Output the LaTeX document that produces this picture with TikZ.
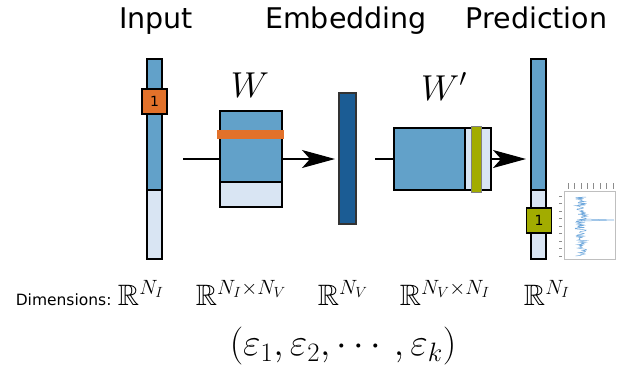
\documentclass[tikz,border=0pt]{standalone}
\usepackage{fix-cm}
\usepackage{amsmath,amssymb}
\usepackage{fontspec}
\setsansfont{DejaVu Sans}
\usetikzlibrary{arrows.meta,backgrounds}
\definecolor{midblue}{HTML}{62A1C9}
\definecolor{paleblue}{HTML}{D9E5F3}
\definecolor{embblue}{HTML}{1B5C94}
\definecolor{hotorange}{HTML}{E2712A}
\definecolor{hotolive}{HTML}{A2AC00}
\definecolor{noiseblue}{HTML}{6FA8DC}
\begin{document}
\begin{tikzpicture}[x=1pt,y=-1pt,
  box/.style={draw=black,line width=1.2pt,inner sep=0pt,outer sep=0pt},
  onehot/.style={box,minimum size=25pt,font=\sffamily\fontsize{14}{14}\selectfont},
  title/.style={font=\sffamily\fontsize{28.5}{30}\selectfont,anchor=base},
  dim/.style={font=\fontsize{29.5}{32}\selectfont,anchor=base},
  conn/.style={line width=1.2pt,-{Stealth[length=33pt,width=18pt,inset=8pt]}},
]
\useasboundingbox (0,0) rectangle (621,368);
% titles
\node[title] (tin) at (156,28) {Input};
\node[title] (temb) at (346,28) {Embedding};
\node[title] (tpred) at (536.5,28) {Prediction};
% input vector
\node[box,fill=midblue,minimum width=15pt,minimum height=131pt] (intop) at (154.5,124.5) {};
\node[box,fill=paleblue,minimum width=15pt,minimum height=69pt] (inbot) at (154.5,224.5) {};
\node[onehot,fill=hotorange] (inone) at (154.5,101.5) {1};
% W
\node[box,fill=midblue,minimum width=62pt,minimum height=71pt] (wtop) at (251,146.5) {};
\node[box,fill=paleblue,minimum width=62pt,minimum height=25pt] (wbot) at (251,194.5) {};
\node[fill=hotorange,inner sep=0pt,minimum width=67pt,minimum height=9pt] (wrow) at (250.5,134.5) {};
\node[font=\fontsize{36}{40}\selectfont,anchor=base] (wlab) at (250,97) {$W$};
% embedding
\node[box,draw=black!80,fill=embblue,minimum width=17pt,minimum height=131pt] (emb) at (347.5,158.5) {};
% W'
\node[box,fill=midblue,minimum width=71pt,minimum height=62pt] (wpl) at (429.5,159) {};
\node[box,fill=paleblue,minimum width=26pt,minimum height=62pt] (wpr) at (478,159) {};
\node[box,draw=black!50,line width=0.6pt,fill=hotolive,minimum width=10pt,minimum height=66pt] (wpcol) at (476,159) {};
\node[font=\fontsize{36}{40}\selectfont,anchor=base] (wplab) at (444,100) {$W'$};
% prediction vector
\node[box,fill=midblue,minimum width=15pt,minimum height=131pt] (predtop) at (538.5,124.5) {};
\node[box,fill=paleblue,minimum width=15pt,minimum height=69pt] (predbot) at (538.5,224.5) {};
\node[onehot,fill=hotolive] (predone) at (539,220.5) {1};
% connectors
\coordinate (s1) at (183,159);
\coordinate (s2) at (375,159);
\begin{scope}[on background layer]
\draw[conn,shorten >=4pt] (s1) -- (emb.west |- s1);
\draw[conn,shorten >=5pt] (s2) -- (predtop.west |- s2);
\end{scope}
% small plot of the output
\draw[black!25,line width=0.5pt] (564,191) rectangle (615,259);
\foreach \t in {0,...,7}
  \draw[black!45,line width=0.6pt] ({568+6.4*\t},183) -- ++(0,6);
\foreach \t in {0,...,8}
  \draw[black!45,line width=0.5pt] (559,{196+7.5*\t}) -- ++(2.5,0);
\pgfmathsetseed{5}
\draw[noiseblue,line width=0.5pt] plot[domain=197:256,samples=90] ({581+12*(rnd-0.5)},\x);
\draw[noiseblue,line width=0.5pt] (584,219) -- (614,220) -- (584,221);
% dimensions
\node[font=\sffamily\fontsize{15.5}{17}\selectfont,anchor=base east] (dimtxt) at (115,305) {Dimensions:};
\node[dim] (d1) at (141,305) {$\mathbb{R}^{N_I}$};
\node[dim] (d2) at (241,305) {$\mathbb{R}^{N_I\times N_V}$};
\node[dim] (d3) at (343,305) {$\mathbb{R}^{N_V}$};
\node[dim] (d4) at (445,305) {$\mathbb{R}^{N_V\times N_I}$};
\node[dim] (d5) at (547,305) {$\mathbb{R}^{N_I}$};
\node[font=\fontsize{38}{42}\selectfont] (eps) at (343,346) {$(\varepsilon_1,\varepsilon_2,\cdots,\varepsilon_k)$};
\end{tikzpicture}
\end{document}
